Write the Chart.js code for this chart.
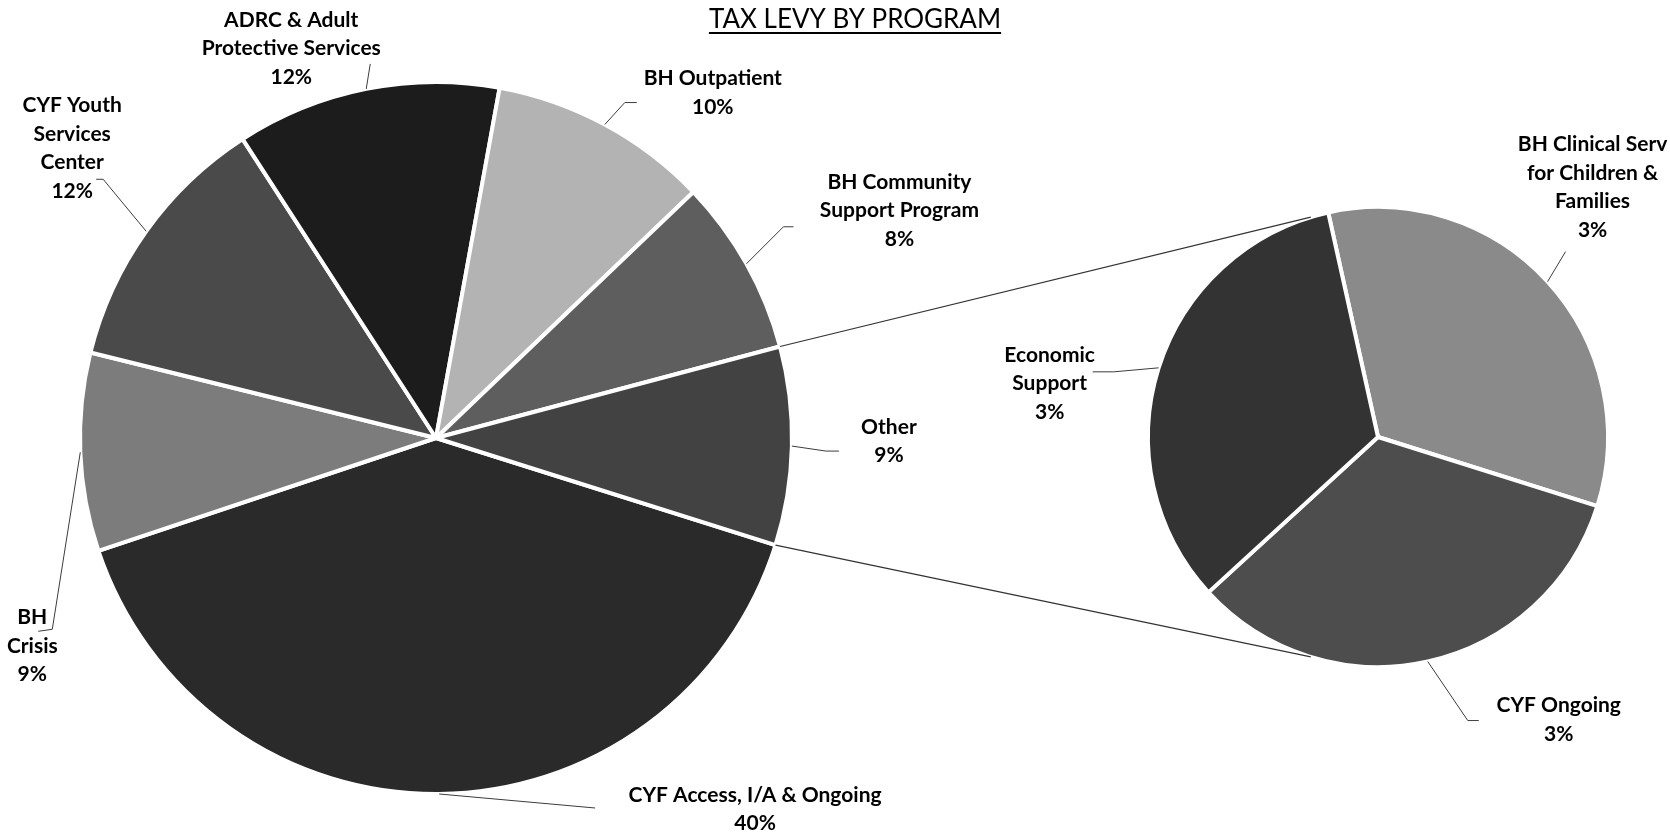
<!DOCTYPE html>
<html>
<head>
<meta charset="utf-8">
<title>Tax Levy by Program</title>
<script src="https://cdn.jsdelivr.net/npm/chart.js@4.4.1/dist/chart.umd.min.js"></script>
<style>
  html, body { margin: 0; padding: 0; background: #fff; }
  #wrap { position: relative; width: 1670px; height: 833px; }
  .layer { position: absolute; left: 0; top: 0; width: 1670px; height: 833px; }
</style>
</head>
<body>
<div id="wrap">
  <div class="layer"><canvas id="mainPie"></canvas></div>
  <div class="layer"><canvas id="otherPie"></canvas></div>
</div>
<script>
// main pie: share of total tax levy (%)
const programs = [
  ['CYF Access, I/A & Ongoing'],
  ['BH', 'Crisis'],
  ['CYF Youth', 'Services', 'Center'],
  ['ADRC & Adult', 'Protective Services'],
  ['BH Outpatient'],
  ['BH Community', 'Support Program'],
  ['Other']
];
const programShares = [40, 9, 12, 12, 10, 8, 9];
const programColors = ['#2a2a2a', '#7c7c7c', '#4a4a4a', '#1c1c1c', '#b3b3b3', '#5e5e5e', '#424242'];

// second pie: what makes up "Other"
const otherPrograms = [
  ['BH Clinical Serv', 'for Children &', 'Families'],
  ['CYF Ongoing'],
  ['Economic', 'Support']
];
const otherShares = [3, 3, 3];
const otherColors = ['#8a8a8a', '#4d4d4d', '#333333'];

const FONT = 'Lato, "Open Sans", sans-serif';

// label placement relative to the middle of each slice's outer edge
const mainLayout = [
  { text: [316, 1],    leader: [[156, 14]] },
  { text: [-48, 165],  leader: [[-28, 177], [-42, 179]] },
  { text: [-74, -126], leader: [[-43, -52], [-50, -52]] },
  { text: [-75, -69],  leader: [[4, -25]] },
  { text: [108, -46],  leader: [[20, -22], [32, -22]] },
  { text: [153, -82],  leader: [[37, -37], [47, -37]] },
  { text: [97, -19],   leader: [[34, 5], [47, 5]] }
];
const otherLayout = [
  { text: [45, -137],  leader: [[18, -30]] },
  { text: [131, 44],   leader: [[40, 59], [51, 59]] },
  { text: [-109, -13], leader: [[-45, 4], [-66, 4]] }
];

const leaderLabels = {
  id: 'leaderLabels',
  afterDatasetsDraw(chart, args, opts) {
    const ctx = chart.ctx;
    const values = chart.data.datasets[0].data;
    ctx.save();
    chart.getDatasetMeta(0).data.forEach((arc, i) => {
      const lay = opts.layout[i];
      const p = arc.getProps(['x', 'y', 'startAngle', 'endAngle', 'outerRadius'], true);
      const mid = (p.startAngle + p.endAngle) / 2;
      const ax = p.x + Math.cos(mid) * p.outerRadius;
      const ay = p.y + Math.sin(mid) * p.outerRadius;

      ctx.strokeStyle = '#3c3c3c';
      ctx.lineWidth = 1;
      ctx.beginPath();
      ctx.moveTo(ax, ay);
      lay.leader.forEach(([dx, dy]) => ctx.lineTo(ax + dx, ay + dy));
      ctx.stroke();

      const lines = chart.data.labels[i].concat([values[i] + '%']);
      ctx.fillStyle = '#000';
      ctx.font = 'bold 21px ' + FONT;
      ctx.textAlign = 'center';
      ctx.textBaseline = 'middle';
      lines.forEach((t, k) => ctx.fillText(t, ax + lay.text[0], ay + lay.text[1] + k * 28.5));
    });
    ctx.restore();
  }
};

const chartTitle = {
  id: 'chartTitle',
  afterDraw(chart, args, opts) {
    const ctx = chart.ctx;
    ctx.save();
    ctx.font = '26px ' + FONT;
    ctx.fillStyle = '#000';
    ctx.textAlign = 'center';
    ctx.textBaseline = 'alphabetic';
    ctx.fillText(opts.text, opts.x, opts.y);
    const w = ctx.measureText(opts.text).width;
    ctx.fillRect(opts.x - w / 2, opts.y + 4, w, 2);
    ctx.restore();
  }
};

// "Other" sits about the 3 o'clock line, as in a pie-of-pie
const totalShare = programShares.reduce((a, b) => a + b, 0);
const otherShare = programShares[programShares.length - 1];
const mainRotation = 91.3 + (otherShare / totalShare) * 180;

const mainChart = new Chart(document.getElementById('mainPie'), {
  type: 'pie',
  data: {
    labels: programs,
    datasets: [{
      data: programShares,
      backgroundColor: programColors,
      borderColor: '#ffffff',
      borderWidth: 4
    }]
  },
  options: {
    responsive: true,
    maintainAspectRatio: false,
    animation: false,
    events: [],
    rotation: mainRotation,
    layout: { padding: { left: 78, top: 80, right: 876, bottom: 37 } },
    plugins: {
      legend: { display: false },
      tooltip: { enabled: false },
      leaderLabels: { layout: mainLayout },
      chartTitle: { text: 'TAX LEVY BY PROGRAM', x: 855, y: 28 }
    }
  },
  plugins: [leaderLabels, chartTitle]
});

// lines joining the "Other" slice to the second pie
const connectors = {
  id: 'connectors',
  afterDatasetsDraw(chart, args, opts) {
    const otherArc = mainChart.getDatasetMeta(0).data[programShares.length - 1];
    const src = otherArc.getProps(['x', 'y', 'startAngle', 'endAngle', 'outerRadius'], true);
    const dst = chart.getDatasetMeta(0).data[0].getProps(['x', 'y', 'outerRadius'], true);
    const a = opts.angle * Math.PI / 180;
    const ctx = chart.ctx;
    ctx.save();
    ctx.strokeStyle = '#333';
    ctx.lineWidth = 1.2;
    [[src.startAngle, -a], [src.endAngle, a]].forEach(([s, d]) => {
      ctx.beginPath();
      ctx.moveTo(src.x + Math.cos(s) * src.outerRadius, src.y + Math.sin(s) * src.outerRadius);
      ctx.lineTo(dst.x + Math.cos(d) * dst.outerRadius, dst.y + Math.sin(d) * dst.outerRadius);
      ctx.stroke();
    });
    ctx.restore();
  }
};

const otherChart = new Chart(document.getElementById('otherPie'), {
  type: 'pie',
  data: {
    labels: otherPrograms,
    datasets: [{
      data: otherShares,
      backgroundColor: otherColors,
      borderColor: '#ffffff',
      borderWidth: 4
    }]
  },
  options: {
    responsive: true,
    maintainAspectRatio: false,
    animation: false,
    events: [],
    rotation: -12.5,
    layout: { padding: { left: 1146, top: 205, right: 60, bottom: 164 } },
    plugins: {
      legend: { display: false },
      tooltip: { enabled: false },
      leaderLabels: { layout: otherLayout },
      connectors: { angle: 107 }
    }
  },
  plugins: [leaderLabels, connectors]
});
</script>
</body>
</html>
